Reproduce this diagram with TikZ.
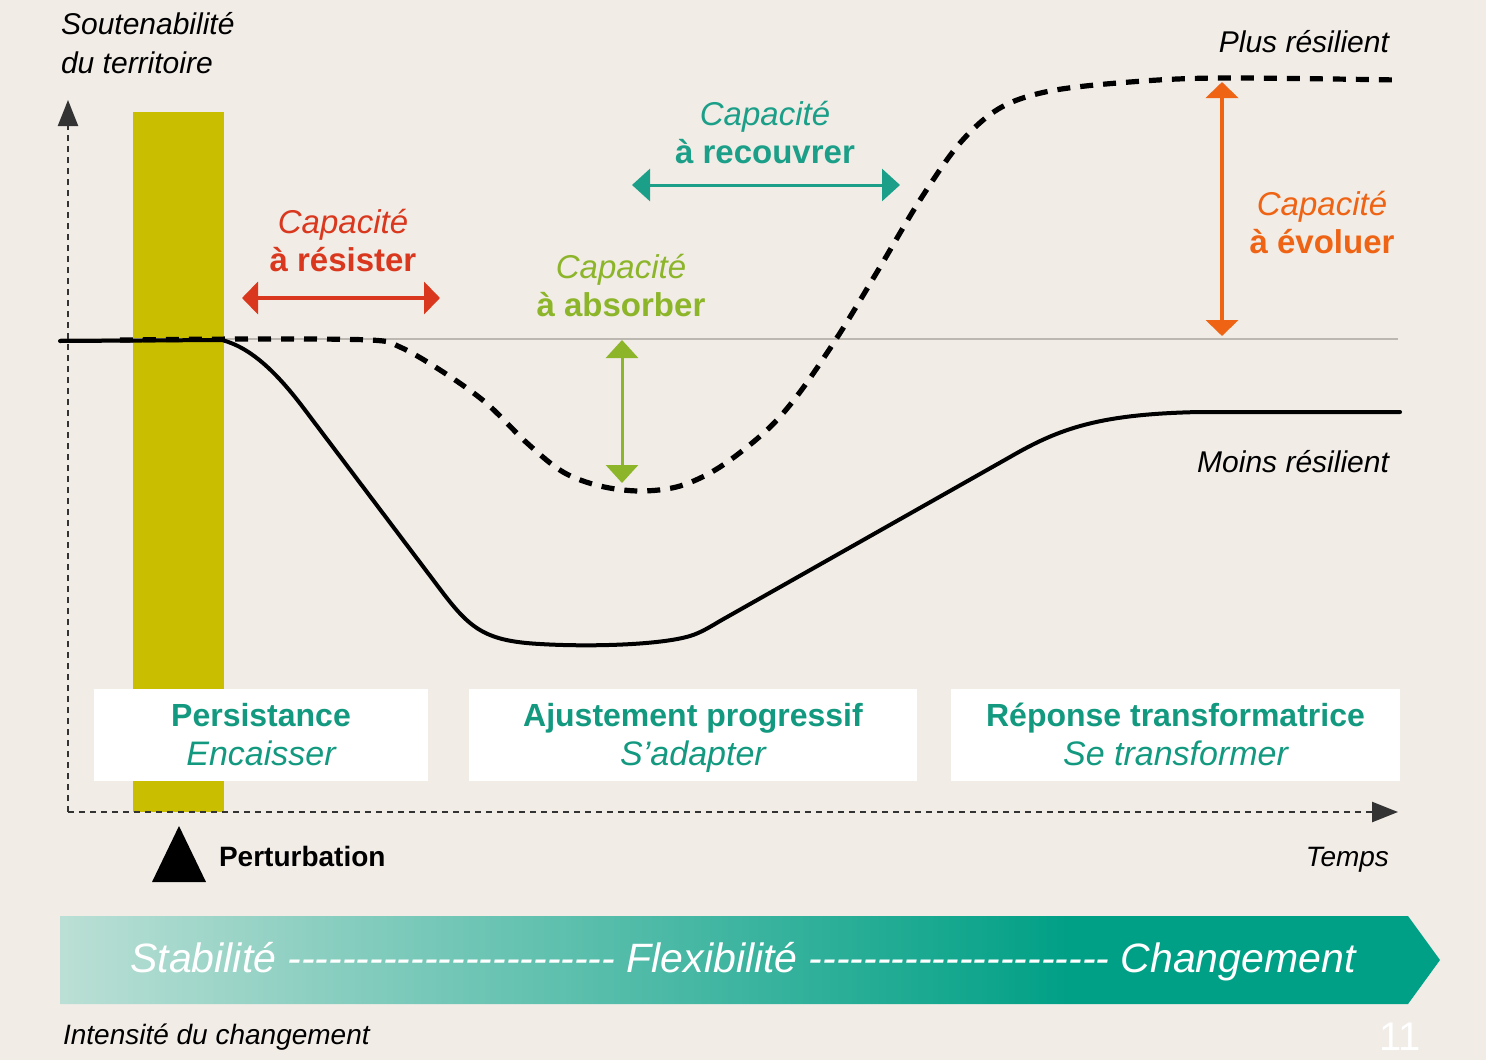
\documentclass[tikz,border=0pt]{standalone}
\usepackage{fontspec}
\setmainfont{Liberation Sans}
\usetikzlibrary{arrows.meta,positioning}

\definecolor{bgbeige}{HTML}{F1ECE6}
\definecolor{baryellow}{HTML}{C9BE00}
\definecolor{resred}{HTML}{D9381E}
\definecolor{absgreen}{HTML}{8CB52A}
\definecolor{recteal}{HTML}{1B9F88}
\definecolor{evoorange}{HTML}{EE6414}
\definecolor{tealtext}{HTML}{13997F}
\definecolor{bandteal}{HTML}{00A086}
\definecolor{bandlight}{HTML}{BBDFD5}
\definecolor{axisgrey}{HTML}{333333}
\definecolor{refgrey}{HTML}{BDB7B1}

% band gradient: light on the left, full teal from about 3/4 on
\pgfdeclarehorizontalshading{bandshade}{100bp}{color(0bp)=(bandlight); color(25bp)=(bandlight);
  color(61.6bp)=(bandteal); color(100bp)=(bandteal)}

% row of plain hyphens (no dash ligatures)
\newcommand{\hyphrun}[1]{\foreach \k in {1,...,#1}{-\kern0pt}}

\tikzset{
  axislabel/.style={font=\fontsize{15}{19.5}\selectfont\itshape},
  capa/.style={align=center, font=\fontsize{16.5}{19}\selectfont},
  phase/.style={align=center, inner sep=0pt, text=tealtext, font=\fontsize{16}{19.5}\selectfont},
  twoway/.style={{Triangle[length=8pt,width=16pt]}-{Triangle[length=8pt,width=16pt]}, line width=2pt},
  thinway/.style={{Triangle[length=9pt,width=16pt]}-{Triangle[length=9pt,width=16pt]}, line width=1.5pt},
  axis/.style={-{Triangle[length=13pt,width=10pt]}, line width=1.2pt,
    dash pattern=on 3pt off 2.5pt, draw=axisgrey},
}

\begin{document}
\begin{tikzpicture}[x=0.5pt,y=-0.5pt]

  % Background
  \fill[bgbeige] (0,0) rectangle (1486,1060);
  \useasboundingbox (0,0) rectangle (1486,1060);

  % Intensity band
  \shade[shading=bandshade] (60,916) -- (1408,916) -- (1440,960) -- (1408,1004) -- (60,1004) -- cycle;
  \node[text=white, font=\fontsize{20.5}{24}\selectfont\itshape] (band) at (743,962)
    {Stabilité \hyphrun{24} Flexibilité \hyphrun{22} Changement};
  \node[anchor=west, font=\fontsize{14}{17}\selectfont\itshape] (intens) at (56,1037) {Intensité du changement};
  \node[text=white, font=\fontsize{20}{24}\selectfont] (pagenum) at (1400,1037) {11};

  % Disturbance bar
  \fill[baryellow] (133,112) rectangle (224,812);

  % Reference level
  \draw[refgrey, line width=0.6pt] (60,339) -- (1398,339);

  % Axes
  \coordinate (origin) at (68,812);
  \coordinate (ytop) at (68,100);
  \coordinate (xend) at (1398,812);
  \draw[axis] (origin) -- (ytop);
  \draw[axis] (origin) -- (xend);

  % Less resilient path
  \draw[line width=2pt, line cap=round] (60,341) -- (222,340)
    .. controls (252,348) and (278,374) .. (305,410) -- (440,589)
    .. controls (470,629) and (485,641) .. (540,644)
    .. controls (590,647) and (660,645) .. (690,636)
    .. controls (700,633) and (710,627) .. (720,621) -- (1010,457)
    .. controls (1060,428) and (1100,414) .. (1200,412) -- (1400,412);

  % More resilient path
  \draw[line width=2.6pt, dash pattern=on 6.5pt off 5pt] plot[smooth, tension=0.55] coordinates {
    (120,340) (250,339) (370,340) (400,347) (440,370) (485,402) (527,443)
    (563,472) (600,486) (640,491) (680,486) (720,467) (767,430) (800,392)
    (840,333) (880,267) (920,200) (960,143) (1000,108) (1050,91) (1130,82)
    (1220,78) (1398,80)};

  % Capacities
  \coordinate (res-l) at (242,298);
  \coordinate (res-r) at (440,298);
  \draw[twoway, resred] (res-l) -- (res-r);
  \node[capa, text=resred] (capres) at (343,241) {{\itshape Capacité}\\{\bfseries à résister}};

  \coordinate (abs-t) at (622,340);
  \coordinate (abs-b) at (622,483);
  \draw[thinway, absgreen] (abs-t) -- (abs-b);
  \node[capa, text=absgreen] (capabs) at (621,286) {{\itshape Capacité}\\{\bfseries à absorber}};

  \coordinate (rec-l) at (632,185);
  \coordinate (rec-r) at (900,185);
  \draw[thinway, recteal] (rec-l) -- (rec-r);
  \node[capa, text=recteal] (caprec) at (765,133) {{\itshape Capacité}\\{\bfseries à recouvrer}};

  \coordinate (evo-t) at (1222,82);
  \coordinate (evo-b) at (1222,336);
  \draw[twoway, evoorange] (evo-t) -- (evo-b);
  \node[capa, text=evoorange] (capevo) at (1322,223) {{\itshape Capacité}\\{\bfseries à évoluer}};

  % Phases
  \fill[white] (94,689) rectangle (428,781);
  \fill[white] (469,689) rectangle (917,781);
  \fill[white] (951,689) rectangle (1400,781);
  \node[phase] (persist) at (261,738)
    {{\bfseries Persistance\strut}\\{\itshape\fontsize{17}{19.5}\selectfont Encaisser\strut}};
  \node[phase] (adjust) at (693,738)
    {{\bfseries Ajustement progressif\strut}\\{\itshape\fontsize{17}{19.5}\selectfont S’adapter\strut}};
  \node[phase] (transf) at (1175.5,738)
    {{\bfseries Réponse transformatrice\strut}\\{\itshape\fontsize{17}{19.5}\selectfont Se transformer\strut}};

  % Disturbance marker
  \fill (152,882) -- (206,882) -- (179,826) -- cycle;
  \node[anchor=west, font=\fontsize{14}{17}\selectfont\bfseries] (perturb) at (212,856) {Perturbation};

  % Axis labels
  \node[axislabel, anchor=west, align=left] (ylab) at (54,43) {Soutenabilité\\du territoire};
  \node[axislabel, anchor=east, font=\fontsize{14}{17}\selectfont\itshape] (xlab) at (1396,860) {Temps};
  \node[axislabel, anchor=east] (plus) at (1396,42) {Plus résilient};
  \node[axislabel, anchor=east] (moins) at (1396,462) {Moins résilient};

\end{tikzpicture}
\end{document}
